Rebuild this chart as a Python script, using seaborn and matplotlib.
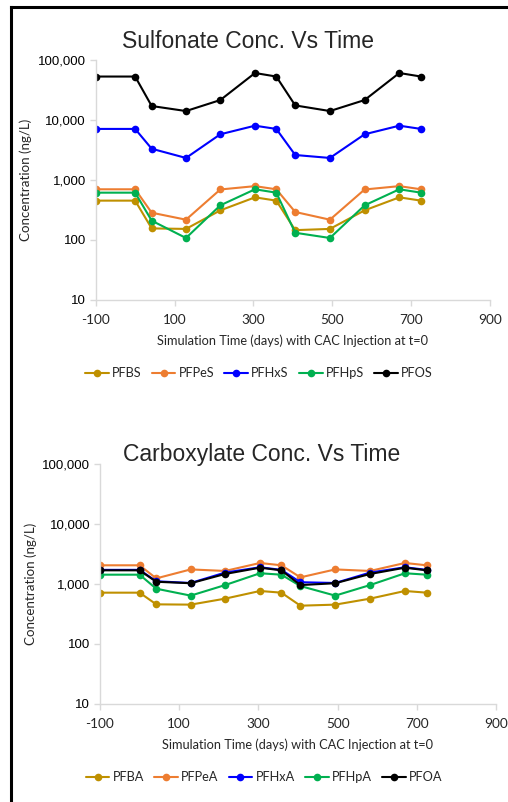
import matplotlib
matplotlib.use("Agg")
import matplotlib.pyplot as plt
import matplotlib.ticker as mticker
from matplotlib.lines import Line2D
import seaborn as sns
import pandas as pd

days = [-100, 0, 42, 129, 216, 304, 358, 406, 494, 582, 670, 725]

sulf_names = ["PFBS", "PFPeS", "PFHxS", "PFHpS", "PFOS"]
PFBS = [453, 453, 156, 153, 312, 514, 453, 146, 153, 312, 514, 453]
PFPeS = [700, 700, 285, 218, 695, 790, 700, 293, 218, 695, 790, 700]
PFHxS = [7100, 7100, 3320, 2330, 5780, 8040, 7100, 2610, 2330, 5780, 8040, 7100]
PFHpS = [615, 615, 210, 108, 378, 700, 615, 132, 108, 378, 700, 615]
PFOS = [53000, 53000, 17100, 14100, 21500, 60700, 53000, 17500, 14100, 21500, 60700, 53000]

carb_names = ["PFBA", "PFPeA", "PFHxA", "PFHpA", "PFOA"]
PFBA = [717, 717, 458, 453, 570, 765, 717, 435, 453, 570, 765, 717]
PFPeA = [2050, 2050, 1240, 1750, 1650, 2240, 2050, 1290, 1750, 1650, 2240, 2050]
PFHxA = [1720, 1720, 1110, 1040, 1550, 1900, 1720, 1070, 1040, 1550, 1900, 1720]
PFHpA = [1430, 1430, 835, 640, 960, 1510, 1430, 925, 640, 960, 1510, 1430]
PFOA = [1690, 1690, 1090, 1030, 1470, 1870, 1690, 960, 1030, 1470, 1870, 1690]

x_ticks = [-100, 100, 300, 500, 700, 900]
y_ticks = [10, 100, 1000, 10000, 100000]

colors = ["#BF9000", "#ED7D31", "#0000FF", "#00B050", "#000000"]

sns.set_theme(style="white")
plt.rcParams["font.family"] = ["Liberation Sans", "DejaVu Sans"]

fig = plt.figure(figsize=(5.08, 8.02), dpi=100)

CAL = ["Lato", "DejaVu Sans"]

def make_long(names, series):
    rows = []
    for n, vals in zip(names, series):
        for d, v in zip(days, vals):
            rows.append({"days": d, "conc": v, "compound": n})
    return pd.DataFrame(rows)

def draw(ax, names, series, title, title_xy, leg_xy):
    df = make_long(names, series)
    sns.lineplot(data=df, x="days", y="conc", hue="compound", hue_order=names,
                 palette=colors, marker="o", markersize=5.5, markeredgewidth=0,
                 linewidth=1.5, ax=ax, legend=True)
    ax.set_yscale("log")
    ax.set_ylim(10, 100000)
    ax.set_xlim(-100, 900)
    ax.set_xticks(x_ticks)
    ax.set_yticks(y_ticks)
    ax.yaxis.set_minor_locator(mticker.NullLocator())
    ax.yaxis.set_major_formatter(mticker.FuncFormatter(lambda v, p: f"{v:,.0f}"))
    ax.xaxis.set_major_formatter(mticker.FuncFormatter(lambda v, p: f"{v:.0f}"))
    for s in ["top", "right"]:
        ax.spines[s].set_visible(False)
    for s in ["left", "bottom"]:
        ax.spines[s].set_color("#d9d9d9")
        ax.spines[s].set_linewidth(1.0)
    ax.tick_params(axis="both", which="major", direction="out", length=4,
                   width=1.0, color="#d9d9d9", bottom=True, left=True)
    ax.tick_params(axis="y", labelsize=9.5, pad=3, labelcolor="#000000")
    for lbl in ax.get_xticklabels():
        lbl.set_fontfamily(CAL)
        lbl.set_fontsize(9.8)
    ax.tick_params(axis="x", pad=6)
    ax.set_xlabel("Simulation Time (days) with CAC Injection at t=0",
                  fontsize=9.2, family=CAL, labelpad=6)
    ax.set_ylabel("Concentration (ng/L)", fontsize=9.6, family=CAL, labelpad=4)
    fig.text(title_xy[0], title_xy[1], title, ha="center", va="center", fontsize=16.5)
    ax.legend(loc="center", bbox_to_anchor=leg_xy, bbox_transform=fig.transFigure,
              ncol=5, frameon=False, handlelength=1.85, handletextpad=0.25,
              columnspacing=0.8, prop={"family": CAL, "size": 9.2})

ax1 = fig.add_axes([95.7 / 508, 1 - 300 / 802, (490 - 95.7) / 508, 240 / 802])
draw(ax1, sulf_names, [PFBS, PFPeS, PFHxS, PFHpS, PFOS],
     "Sulfonate Conc. Vs Time", (248 / 508, 1 - 41 / 802), (259 / 508, 1 - 373 / 802))

ax2 = fig.add_axes([100 / 508, 1 - 704 / 802, (496 - 100) / 508, 240 / 802])
draw(ax2, carb_names, [PFBA, PFPeA, PFHxA, PFHpA, PFOA],
     "Carboxylate Conc. Vs Time", (262 / 508, 1 - 454 / 802), (264 / 508, 1 - 777 / 802))

# outer border (top and left)
fig.add_artist(Line2D([11 / 508, 11 / 508], [0, 1 - 6.5 / 802],
                      transform=fig.transFigure, color="black", linewidth=2.2,
                      solid_capstyle="projecting"))
fig.add_artist(Line2D([11 / 508, 507 / 508], [1 - 6.5 / 802, 1 - 6.5 / 802],
                      transform=fig.transFigure, color="black", linewidth=2.2,
                      solid_capstyle="projecting"))

fig.savefig("out.png", dpi=100, facecolor="white")
